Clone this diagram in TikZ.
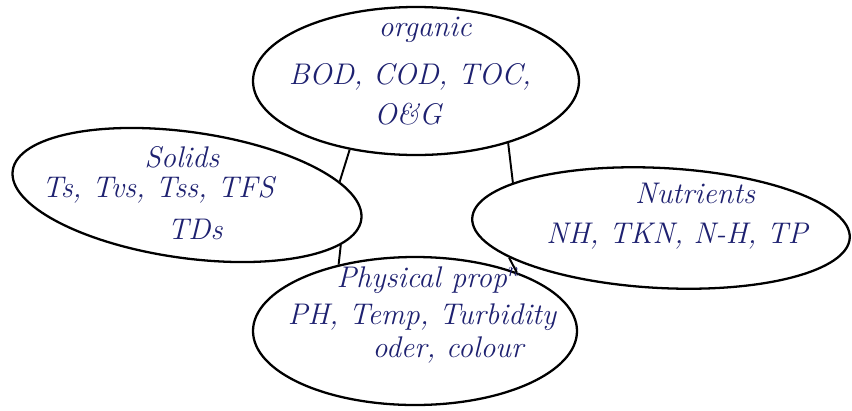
\documentclass[tikz,border=0pt]{standalone}
\usetikzlibrary{shapes.geometric}
\definecolor{ink}{HTML}{1E2170}
\begin{document}
\begin{tikzpicture}[x=0.02cm,y=-0.02cm,
  bubble/.style={draw=black,line width=1.3pt,ellipse,inner sep=0pt},
  hand/.style={text=ink,font=\itshape\fontsize{17}{20}\selectfont,align=center,inner sep=0pt},
  link/.style={draw=black,line width=1.1pt}]
\useasboundingbox (0,0) rectangle (852,410);
\node[bubble,minimum width=326*0.02cm,minimum height=148*0.02cm] (org) at (416,81) {};
\node[bubble,minimum width=352*0.02cm,minimum height=126*0.02cm,rotate=-8] (sol) at (187,195) {};
\node[bubble,minimum width=378*0.02cm,minimum height=120*0.02cm,rotate=-3] (nut) at (661,228) {};
\node[bubble,minimum width=324*0.02cm,minimum height=148*0.02cm] (phy) at (415,331) {};
\node[hand] (orgt1) at (425,30) {organic};
\node[hand] (orgt2) at (410,77) {BOD, COD, TOC,};
\node[hand] (orgt3) at (408,114) {O\&G};
\node[hand] (solt1) at (182,157) {Solids};
\node[hand] (solt2) at (158,190) {Ts, Tvs, Tss, TFS};
\node[hand] (solt3) at (195,229) {TDs};
\node[hand] (nutt1) at (695,193) {Nutrients};
\node[hand] (nutt2) at (677,236) {NH, TKN, N-H, TP};
\node[hand] (phyt1) at (428,280) {Physical prop\textsuperscript{n}};
\node[hand] (phyt2) at (422,317) {PH, Temp, Turbidity};
\node[hand] (phyt3) at (448,350) {oder, colour};
\draw[link] (org.226) -- (sol.13);
\draw[link] (org.326) -- (nut.166);
\draw[link] (sol.350) -- (phy.139);
\draw[link] (nut.194) -- (phy.30);
\end{tikzpicture}
\end{document}
